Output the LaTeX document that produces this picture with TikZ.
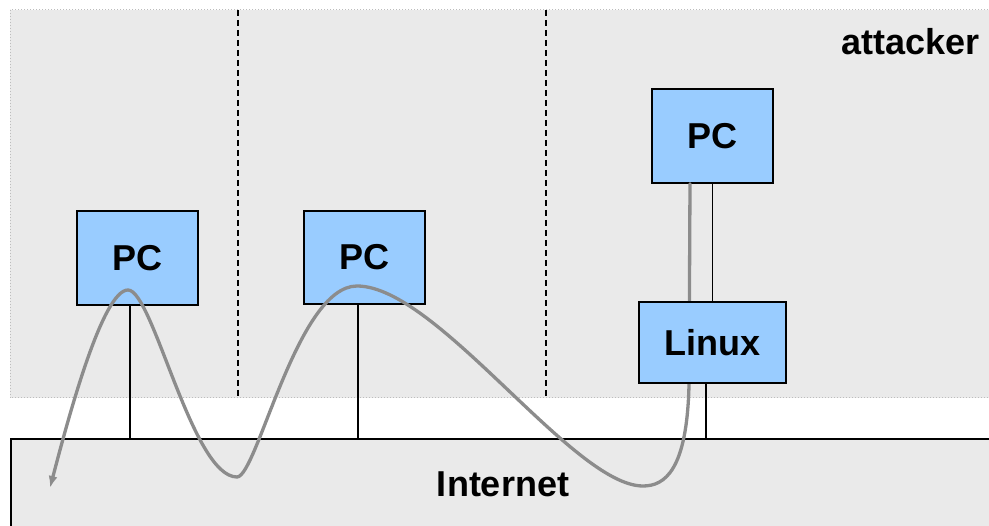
\documentclass[tikz,border=0pt]{standalone}
\usepackage{fontspec}
\setmainfont{Liberation Sans}
\usetikzlibrary{arrows.meta}
\definecolor{panelgray}{HTML}{EAEAEA}
\definecolor{boxblue}{HTML}{99CCFF}
\definecolor{routegray}{HTML}{8C8C8C}
\definecolor{bordergray}{HTML}{BDBDBD}
\begin{document}
\begin{tikzpicture}[x=1pt,y=-1pt,
  labelfont/.style={font=\bfseries\fontsize{36}{40}\selectfont},
  hostbox/.style={draw=black, line width=1.6pt, fill=boxblue, rectangle,
    inner sep=0pt, labelfont},
  netbox/.style={draw=black, line width=2pt, fill=panelgray, rectangle, inner sep=0pt},
  wire/.style={draw=black, line width=1.7pt},
  divider/.style={draw=black, line width=1.3pt, dash pattern=on 6pt off 4pt},
  route/.style={draw=routegray, line width=3.3pt, line cap=round,
    -{Latex[length=12pt,width=9pt]}}]
\useasboundingbox (0,0) rectangle (989,526);
\clip (0,0) rectangle (989,526);
\fill[white] (0,0) rectangle (989,526);

% private side: shaded area with dotted outline
\draw[bordergray, dotted, line width=1pt, fill=panelgray] (10,10) rectangle (1005,398);
\draw[divider] (238,10) -- (238,398);
\draw[divider] (546,10) -- (546,398);
\node[labelfont, anchor=base east] (attacker) at (983,55) {attacker};

% the Internet
\node[netbox, minimum width=1010pt, minimum height=130pt, anchor=north west] (net) at (10,438) {};
\node[labelfont, anchor=base] (netlabel) at (503,497) {Internet};

% hosts
\node[hostbox, minimum width=121pt, minimum height=94pt] (pc1) at (137.5,258) {PC};
\node[hostbox, minimum width=121pt, minimum height=93pt] (pc2) at (364.5,257.5) {PC};
\node[hostbox, minimum width=121pt, minimum height=94pt] (pc3) at (712.5,136) {PC};

\draw[wire] ([xshift=-7.5pt]pc1.south) -- ([xshift=-7.5pt]pc1.south |- net.north);
\draw[wire] ([xshift=-6.5pt]pc2.south) -- ([xshift=-6.5pt]pc2.south |- net.north);

% tunnelled route from the attacker back out through the Internet
\draw[route] ([xshift=-22.5pt]pc3.south) -- (689,385)
  .. controls (687,470) and (665,486) .. (643,486)
  .. controls (573,486) and (437,286) .. (357,286)
  .. controls (297,286) and (257,477) .. (237,477)
  .. controls (192,477) and (153,290) .. (128,290)
  .. controls (103,290) and (69.5,413) .. (50,488);

\node[hostbox, minimum width=147pt, minimum height=81pt] (linux) at (712.5,342.5) {Linux};
\draw[wire] (pc3.south) -- (linux.north);
\draw[wire] ([xshift=-6.5pt]linux.south) -- ([xshift=-6.5pt]linux.south |- net.north);
\end{tikzpicture}
\end{document}
